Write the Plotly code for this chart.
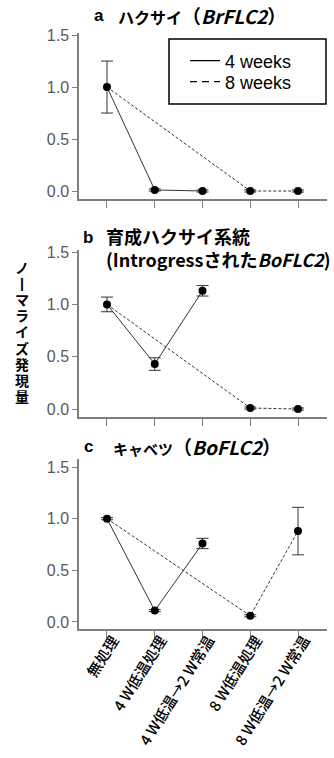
import plotly.graph_objects as go

# ---------------- data ----------------
categories = ["無処理", "4 W低温処理", "4 W低温→2 W常温", "8 W低温処理", "8 W低温→2 W常温"]
series_names = ["4 weeks", "8 weeks"]
idx_4weeks = [0, 1, 2]
idx_8weeks = [0, 3, 4]

panel_a_values = [1.00, 0.01, 0.00, 0.00, 0.00]
panel_a_errors = [0.25, 0.01, 0.01, 0.01, 0.01]
panel_b_values = [1.00, 0.43, 1.13, 0.01, 0.00]
panel_b_errors = [0.07, 0.06, 0.05, 0.01, 0.01]
panel_c_values = [1.00, 0.11, 0.76, 0.06, 0.88]
panel_c_errors = [0.01, 0.01, 0.05, 0.01, 0.23]

panel_letters = ["a", "b", "c"]
panel_titles = ['<span style="font-size:16px">ハクサイ</span>（<i>BrFLC2</i>）',
                "育成ハクサイ系統<br>(Introgressされた<i>BoFLC2</i>)",
                '<span style="font-size:15px">キャベツ</span>（<i>BoFLC2</i>）']
title_sizes = [19, 18, 19]
y_title = "ノーマライズ発現量"
y_ticks = [0.0, 0.5, 1.0, 1.5]

# ---------------- layout helpers ----------------
W, H = 334, 758
def px_x(p):
    return p / W
def px_y(p):
    return 1 - p / H

panels = [
    dict(vals=panel_a_values, errs=panel_a_errors, dom=(199, 33), yr=[-0.077, 1.52]),
    dict(vals=panel_b_values, errs=panel_b_errors, dom=(417, 250), yr=[-0.076, 1.52]),
    dict(vals=panel_c_values, errs=panel_c_errors, dom=(629, 459), yr=[-0.068, 1.578]),
]

LINE_COL = "#333333"
AXIS_COL = "#7f7f7f"
TICK_FONT = dict(family="Liberation Sans, Arial", size=16, color="#595959")
JP = "Noto Sans CJK JP"
DASH_PLOT = "3px,2px"
DASH_LEGEND = "7px,5px"

fig = go.Figure()
layout = dict(
    width=W, height=H,
    margin=dict(l=0, r=0, t=0, b=0),
    paper_bgcolor="white", plot_bgcolor="white",
    showlegend=True,
)

for k, p in enumerate(panels):
    n = "" if k == 0 else str(k + 1)
    xa, ya = "x" + n, "y" + n
    for s, idx, dash in ((0, idx_4weeks, "solid"), (1, idx_8weeks, DASH_PLOT)):
        fig.add_trace(go.Scatter(
            x=[categories[i] for i in idx], y=[p["vals"][i] for i in idx],
            mode="lines", name=series_names[s],
            line=dict(color=LINE_COL, width=1, dash=dash),
            showlegend=False, xaxis=xa, yaxis=ya, hoverinfo="skip"))
    fig.add_trace(go.Scatter(
        x=categories, y=p["vals"], mode="markers",
        marker=dict(color="black", size=8),
        error_y=dict(type="data", array=p["errs"], visible=True,
                     color=LINE_COL, thickness=1, width=6),
        showlegend=False, xaxis=xa, yaxis=ya))

    layout["xaxis" + n] = dict(
        domain=[px_x(79), px_x(327)], anchor=ya,
        type="category", categoryorder="array", categoryarray=categories,
        range=[-0.586, 4.607], showgrid=False, zeroline=False,
        showline=True, linecolor=AXIS_COL, linewidth=1.5,
        ticks="outside", ticklen=7, tickcolor=AXIS_COL, tickwidth=1.2,
        showticklabels=(k == 2), tickangle=-58, ticklabelshift=6,
        ticklabelstandoff=-12,
        tickfont=dict(family=JP, size=15, color="black", weight=500),
        automargin=False, fixedrange=True)
    layout["yaxis" + n] = dict(
        domain=[px_y(p["dom"][0]), px_y(p["dom"][1])], anchor=xa,
        range=p["yr"], tickvals=y_ticks, tickformat=".1f",
        showgrid=False, zeroline=False,
        showline=True, linecolor=AXIS_COL, linewidth=1.5,
        ticks="outside", ticklen=5, tickcolor=AXIS_COL, tickwidth=1.2,
        tickfont=TICK_FONT, automargin=False, fixedrange=True)

# legend entries (line samples only), one legend box per entry for exact placement
legend_keys = ["legend", "legend2"]
legend_rows = [61, 82]
for s, dash in ((0, "solid"), (1, DASH_LEGEND)):
    fig.add_trace(go.Scatter(
        x=[None], y=[None], mode="lines", name=series_names[s],
        line=dict(color="black", width=1.3, dash=dash),
        showlegend=True, legend=legend_keys[s], xaxis="x", yaxis="y"))
    layout[legend_keys[s]] = dict(
        x=px_x(185), y=px_y(legend_rows[s]), xanchor="left", yanchor="middle",
        bgcolor="rgba(0,0,0,0)", borderwidth=0,
        font=dict(family="Liberation Sans, Arial", size=18, color="black"),
        itemclick=False, itemdoubleclick=False)

shapes = [dict(type="rect", xref="paper", yref="paper",
               x0=px_x(169), x1=px_x(326), y0=px_y(104), y1=px_y(39),
               line=dict(color="black", width=1.5), fillcolor="white", layer="above")]

annotations = []
letter_pos = [(92, 16), (81, 237), (82, 446)]
title_pos = [(116, 16), (104, 248), (111, 446)]
for k in range(3):
    annotations.append(dict(
        text="<b>%s</b>" % panel_letters[k], xref="paper", yref="paper",
        x=px_x(letter_pos[k][0]), y=px_y(letter_pos[k][1]),
        xanchor="left", yanchor="middle", showarrow=False,
        font=dict(family="Liberation Sans, Arial", size=17, color="black")))
    annotations.append(dict(
        text="<b>%s</b>" % panel_titles[k], xref="paper", yref="paper",
        x=px_x(title_pos[k][0]), y=px_y(title_pos[k][1]),
        xanchor="left", yanchor="middle", align="left", showarrow=False,
        font=dict(family=JP, size=title_sizes[k], color="black")))

vertical_label = "<br>".join(
    '<span style="font-size:14px">%s</span>' % ("丨" if ch == "ー" else ch)
    for ch in y_title)
annotations.append(dict(
    text="<b>%s</b>" % vertical_label, xref="paper", yref="paper",
    x=px_x(22), y=px_y(332), xanchor="center", yanchor="middle",
    showarrow=False, font=dict(family=JP, size=12.4, color="black")))

layout["shapes"] = shapes
layout["annotations"] = annotations
fig.update_layout(**layout)

fig.write_html("out.html", config={"displayModeBar": False},
               post_script="document.body.style.margin='0';document.body.style.overflow='hidden';")
